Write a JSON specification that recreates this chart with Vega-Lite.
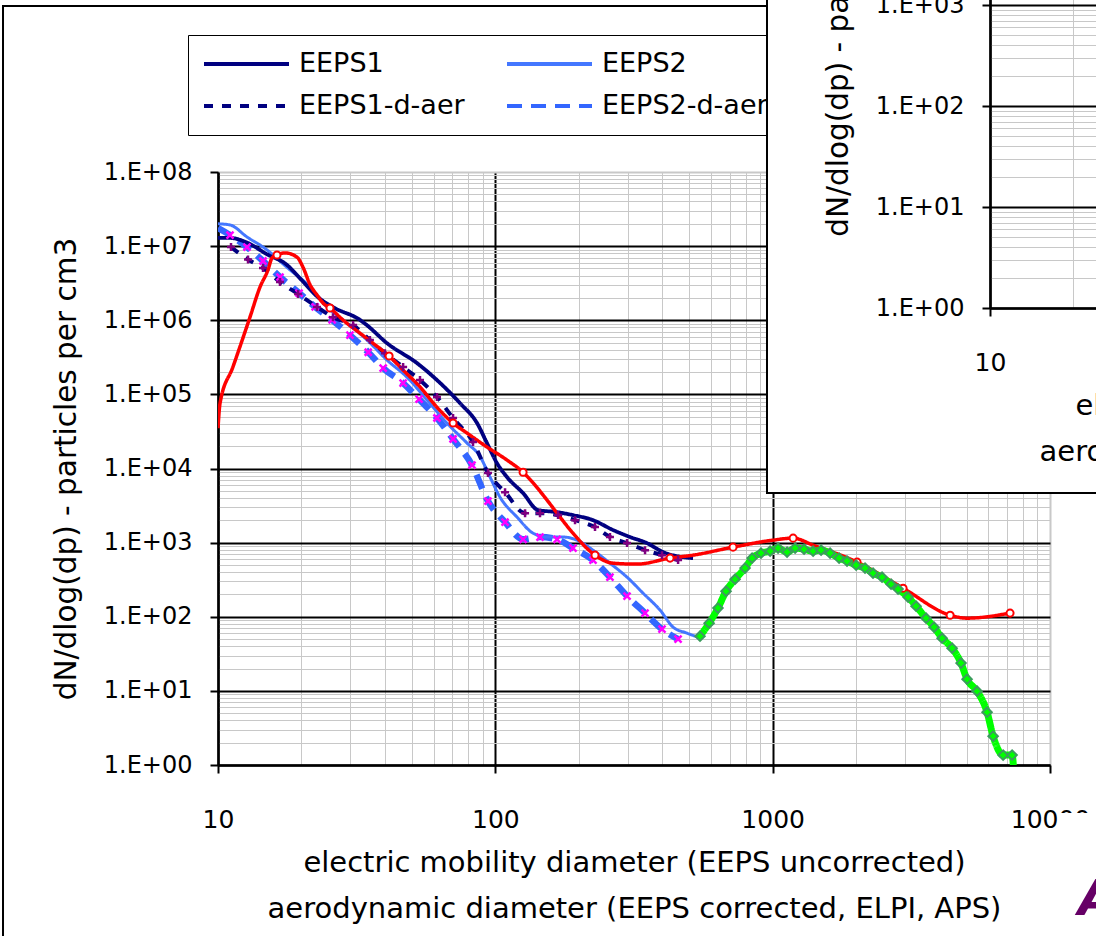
{
"$schema":"https://vega.github.io/schema/vega-lite/v6.json",
"autosize":{"type":"none"},
"padding":{"left":218,"top":172,"right":878,"bottom":764},
"background":"white",
"spacing":0,
"bounds":"flush",
"resolve":{"scale":{"color":"independent","strokeDash":"independent"},"legend":{"color":"independent","strokeDash":"independent"}},
"config":{
"font":"DejaVu Sans",
"view":{"stroke":null},
"axis":{"domainColor":"black","domainWidth":2.5,"tickColor":"black","tickWidth":2,"tickSize":8,"labelFont":"DejaVu Sans","labelColor":"black","titleFont":"DejaVu Sans","titleColor":"black","titleFontWeight":"normal","labelOverlap":false,"labelFlush":false,"labelBound":false,"grid":true}
},
"datasets":{"d":[
{"s":"EEPS1","x":10,"y":1.29e7},{"s":"EEPS1","x":11.05,"y":1.29e7},{"s":"EEPS1","x":12.7,"y":1.12e7},{"s":"EEPS1","x":15,"y":7.8e6},{"s":"EEPS1","x":17.7,"y":5.6e6},{"s":"EEPS1","x":20,"y":3.5e6},{"s":"EEPS1","x":22.75,"y":2.1e6},{"s":"EEPS1","x":26,"y":1.5e6},{"s":"EEPS1","x":32.5,"y":1.01e6},{"s":"EEPS1","x":34.4,"y":8.6e5},{"s":"EEPS1","x":40.7,"y":4.9e5},{"s":"EEPS1","x":52.2,"y":2.64e5},{"s":"EEPS1","x":61.6,"y":1.56e5},{"s":"EEPS1","x":74.6,"y":7.6e4},{"s":"EEPS1","x":85.9,"y":4.1e4},{"s":"EEPS1","x":93.3,"y":2.2e4},{"s":"EEPS1","x":101.4,"y":1.18e4},{"s":"EEPS1","x":110.2,"y":7650},{"s":"EEPS1","x":125.9,"y":4660},{"s":"EEPS1","x":142.6,"y":2750},{"s":"EEPS1","x":166.9,"y":2580},{"s":"EEPS1","x":190.6,"y":2350},{"s":"EEPS1","x":225,"y":2010},{"s":"EEPS1","x":265.7,"y":1480},{"s":"EEPS1","x":306,"y":1190},{"s":"EEPS1","x":352.4,"y":985},{"s":"EEPS1","x":402.7,"y":745},{"s":"EEPS1","x":475.3,"y":637},{"s":"EEPS1","x":516.4,"y":618},
{"s":"EEPS2","x":10,"y":2.0e7},{"s":"EEPS2","x":11.05,"y":1.93e7},{"s":"EEPS2","x":12.72,"y":1.33e7},{"s":"EEPS2","x":15.02,"y":8.9e6},{"s":"EEPS2","x":17.7,"y":5.2e6},{"s":"EEPS2","x":21.5,"y":2.8e6},{"s":"EEPS2","x":24.7,"y":1.51e6},{"s":"EEPS2","x":28.2,"y":1.01e6},{"s":"EEPS2","x":34.5,"y":5.4e5},{"s":"EEPS2","x":40.7,"y":2.9e5},{"s":"EEPS2","x":48,"y":1.71e5},{"s":"EEPS2","x":56.7,"y":8.4e4},{"s":"EEPS2","x":66.9,"y":4.1e4},{"s":"EEPS2","x":79.1,"y":2.2e4},{"s":"EEPS2","x":88.1,"y":1.45e4},{"s":"EEPS2","x":95.7,"y":7650},{"s":"EEPS2","x":104,"y":4100},{"s":"EEPS2","x":119.7,"y":2210},{"s":"EEPS2","x":136.8,"y":1340},{"s":"EEPS2","x":153.6,"y":1190},{"s":"EEPS2","x":175.4,"y":1190},{"s":"EEPS2","x":197,"y":1080},{"s":"EEPS2","x":225,"y":792},{"s":"EEPS2","x":259,"y":528},{"s":"EEPS2","x":298.5,"y":342},{"s":"EEPS2","x":341,"y":208},{"s":"EEPS2","x":392.6,"y":123},{"s":"EEPS2","x":437.5,"y":72.4},{"s":"EEPS2","x":491,"y":60.1},{"s":"EEPS2","x":538,"y":53.1},
{"s":"EEPS1-d-aer","x":11.14,"y":9.7e6,"m":1},{"s":"EEPS1-d-aer","x":12.83,"y":6.6e6,"m":1},{"s":"EEPS1-d-aer","x":14.53,"y":5.07e6,"m":1},{"s":"EEPS1-d-aer","x":16.73,"y":3.28e6,"m":1},{"s":"EEPS1-d-aer","x":19.44,"y":2.26e6,"m":1},{"s":"EEPS1-d-aer","x":22.75,"y":1.51e6,"m":1},{"s":"EEPS1-d-aer","x":25.98,"y":1.1e6,"m":1},{"s":"EEPS1-d-aer","x":30.7,"y":8.6e5,"m":1},{"s":"EEPS1-d-aer","x":35.3,"y":5.4e5,"m":1},{"s":"EEPS1-d-aer","x":40,"y":3.6e5,"m":1},{"s":"EEPS1-d-aer","x":46.5,"y":2.34e5,"m":1},{"s":"EEPS1-d-aer","x":53.5,"y":1.56e5,"m":1},{"s":"EEPS1-d-aer","x":61.6,"y":9.2e4,"m":1},{"s":"EEPS1-d-aer","x":70.4,"y":4.8e4,"m":1},{"s":"EEPS1-d-aer","x":83.1,"y":2.27e4,"m":1},{"s":"EEPS1-d-aer","x":94.1,"y":8700,"m":1},{"s":"EEPS1-d-aer","x":108.4,"y":4800,"m":1},{"s":"EEPS1-d-aer","x":128,"y":2500,"m":1},{"s":"EEPS1-d-aer","x":144.9,"y":2500,"m":1},{"s":"EEPS1-d-aer","x":168.3,"y":2350,"m":1},{"s":"EEPS1-d-aer","x":193.8,"y":2010,"m":1},{"s":"EEPS1-d-aer","x":228.8,"y":1620,"m":1},{"s":"EEPS1-d-aer","x":259,"y":1190,"m":1},{"s":"EEPS1-d-aer","x":298.5,"y":985,"m":1},{"s":"EEPS1-d-aer","x":346.6,"y":792,"m":1},{"s":"EEPS1-d-aer","x":399,"y":678,"m":1},{"s":"EEPS1-d-aer","x":456,"y":581,"m":1},
{"s":"EEPS2-d-aer","x":10,"y":1.75e7},{"s":"EEPS2-d-aer","x":11.05,"y":1.41e7,"m":1},{"s":"EEPS2-d-aer","x":12.72,"y":9.7e6,"m":1},{"s":"EEPS2-d-aer","x":14.53,"y":6.3e6,"m":1},{"s":"EEPS2-d-aer","x":16.73,"y":3.83e6,"m":1},{"s":"EEPS2-d-aer","x":19.6,"y":2.33e6,"m":1},{"s":"EEPS2-d-aer","x":22.4,"y":1.51e6,"m":1},{"s":"EEPS2-d-aer","x":25.8,"y":1.01e6,"m":1},{"s":"EEPS2-d-aer","x":29.9,"y":6.3e5,"m":1},{"s":"EEPS2-d-aer","x":34.8,"y":3.7e5,"m":1},{"s":"EEPS2-d-aer","x":39.4,"y":2.26e5,"m":1},{"s":"EEPS2-d-aer","x":46.5,"y":1.42e5,"m":1},{"s":"EEPS2-d-aer","x":53.1,"y":8.6e4,"m":1},{"s":"EEPS2-d-aer","x":61.6,"y":4.8e4,"m":1},{"s":"EEPS2-d-aer","x":70.4,"y":2.5e4,"m":1},{"s":"EEPS2-d-aer","x":82.4,"y":1.11e4,"m":1},{"s":"EEPS2-d-aer","x":94.1,"y":3630,"m":1},{"s":"EEPS2-d-aer","x":108.4,"y":1890,"m":1},{"s":"EEPS2-d-aer","x":125.9,"y":1110,"m":1},{"s":"EEPS2-d-aer","x":144.9,"y":1190,"m":1},{"s":"EEPS2-d-aer","x":166.9,"y":1110,"m":1},{"s":"EEPS2-d-aer","x":190.6,"y":843,"m":1},{"s":"EEPS2-d-aer","x":225,"y":581,"m":1},{"s":"EEPS2-d-aer","x":259,"y":342,"m":1},{"s":"EEPS2-d-aer","x":298.5,"y":190,"m":1},{"s":"EEPS2-d-aer","x":346.6,"y":112,"m":1},{"s":"EEPS2-d-aer","x":399,"y":68,"m":1},{"s":"EEPS2-d-aer","x":456,"y":49.9,"m":1},
{"s":"ELPI","x":10,"y":3.5e4},{"s":"ELPI","x":10.17,"y":7.6e4},{"s":"ELPI","x":11.32,"y":2.34e5},{"s":"ELPI","x":13.04,"y":1.1e6},{"s":"ELPI","x":14.17,"y":2.8e6},{"s":"ELPI","x":15.14,"y":4.76e6},{"s":"ELPI","x":15.65,"y":6.9e6},{"s":"ELPI","x":16.32,"y":7.6e6,"m":1},{"s":"ELPI","x":17.44,"y":8.1e6},{"s":"ELPI","x":19.27,"y":7.1e6},{"s":"ELPI","x":20.25,"y":5.2e6},{"s":"ELPI","x":21.5,"y":2.99e6},{"s":"ELPI","x":22.75,"y":2.19e6},{"s":"ELPI","x":23.9,"y":1.71e6},{"s":"ELPI","x":25.34,"y":1.46e6,"m":1},{"s":"ELPI","x":28.2,"y":1.01e6},{"s":"ELPI","x":32.5,"y":6.7e5},{"s":"ELPI","x":36.2,"y":4.9e5},{"s":"ELPI","x":41.4,"y":3.29e5,"m":1},{"s":"ELPI","x":46.5,"y":2.13e5},{"s":"ELPI","x":53.5,"y":1.26e5},{"s":"ELPI","x":61.6,"y":6.7e4},{"s":"ELPI","x":70.4,"y":4.1e4,"m":1},{"s":"ELPI","x":79.1,"y":3.0e4},{"s":"ELPI","x":93.3,"y":1.95e4},{"s":"ELPI","x":110.2,"y":1.3e4},{"s":"ELPI","x":125.9,"y":8900,"m":1},{"s":"ELPI","x":136.8,"y":6400},{"s":"ELPI","x":153.6,"y":3750},{"s":"ELPI","x":171.1,"y":2210},{"s":"ELPI","x":190.6,"y":1340},{"s":"ELPI","x":228.8,"y":678,"m":1},{"s":"ELPI","x":265.7,"y":528},{"s":"ELPI","x":324.3,"y":513},{"s":"ELPI","x":426.6,"y":618,"m":1},{"s":"ELPI","x":516.4,"y":678},{"s":"ELPI","x":719.6,"y":869,"m":1},{"s":"ELPI","x":1003,"y":1080},{"s":"ELPI","x":1185,"y":1150,"m":1},{"s":"ELPI","x":1399,"y":925},{"s":"ELPI","x":2015,"y":546,"m":1},{"s":"ELPI","x":2953,"y":243,"m":1},{"s":"ELPI","x":4364,"y":105,"m":1},{"s":"ELPI","x":5023,"y":95.7},{"s":"ELPI","x":7178,"y":112,"m":1},
{"s":"APS","x":547,"y":54.7,"m":1},{"s":"APS","x":590,"y":82,"m":1},{"s":"APS","x":635,"y":131,"m":1},{"s":"APS","x":679,"y":221,"m":1},{"s":"APS","x":732,"y":321,"m":1},{"s":"APS","x":795,"y":453,"m":1},{"s":"APS","x":843,"y":618,"m":1},{"s":"APS","x":908,"y":721,"m":1},{"s":"APS","x":979,"y":767,"m":1},{"s":"APS","x":1046,"y":843,"m":1},{"s":"APS","x":1127,"y":745,"m":1},{"s":"APS","x":1205,"y":843,"m":1},{"s":"APS","x":1298,"y":817,"m":1},{"s":"APS","x":1399,"y":767,"m":1},{"s":"APS","x":1495,"y":792,"m":1},{"s":"APS","x":1611,"y":721,"m":1},{"s":"APS","x":1736,"y":618,"m":1},{"s":"APS","x":1854,"y":563,"m":1},{"s":"APS","x":2000,"y":497,"m":1},{"s":"APS","x":2153,"y":453,"m":1},{"s":"APS","x":2301,"y":387,"m":1},{"s":"APS","x":2480,"y":342,"m":1},{"s":"APS","x":2673,"y":275,"m":1},{"s":"APS","x":2833,"y":236,"m":1},{"s":"APS","x":3077,"y":184,"m":1},{"s":"APS","x":3289,"y":139,"m":1},{"s":"APS","x":3574,"y":95.7,"m":1},{"s":"APS","x":3819,"y":72.4,"m":1},{"s":"APS","x":4083,"y":51.4,"m":1},{"s":"APS","x":4436,"y":37.7,"m":1},{"s":"APS","x":4777,"y":23.7,"m":1},{"s":"APS","x":5023,"y":14.4,"m":1},{"s":"APS","x":5458,"y":9.9,"m":1},{"s":"APS","x":5930,"y":5.16,"m":1},{"s":"APS","x":6237,"y":2.45,"m":1},{"s":"APS","x":6776,"y":1.36,"m":1},{"s":"APS","x":7300,"y":1.36,"m":1},{"s":"APS","x":7450,"y":0.5}
]},
"hconcat":[
{
"width":832,"height":593,
"data":{"name":"d"},
"layer":[
{"data":{"values":[{}]},"mark":{"type":"rect","filled":false,"stroke":"black","strokeWidth":2},
 "encoding":{"x":{"datum":1.678,"type":"quantitative","scale":{"type":"log","domain":[10,10000],"nice":false}},"x2":{"datum":10000000},"y":{"datum":1.738e10,"type":"quantitative","scale":{"type":"log","domain":[1,100000000],"nice":false}},"y2":{"datum":0.00317}}},
{"transform":[{"filter":"datum.s==='EEPS2-d-aer'"}],
 "mark":{"type":"line","strokeWidth":6.5,"interpolate":"monotone","clip":true},
 "encoding":{
  "x":{"field":"x","type":"quantitative","scale":{"type":"log","domain":[10,10000],"nice":false},
   "axis":{"values":[10,20,30,40,50,60,70,80,90,100,200,300,400,500,600,700,800,900,1000,2000,3000,4000,5000,6000,7000,8000,9000,10000],
    "labelExpr":"abs(log(datum.value)/LN10-round(log(datum.value)/LN10))<0.001 ? format(datum.value,'d') : ''",
    "gridColor":{"condition":{"test":"abs(log(datum.value)/LN10-round(log(datum.value)/LN10))<0.001 && datum.value<5000","value":"black"},"value":"#c8c8c8"},
    "gridWidth":{"condition":{"test":"abs(log(datum.value)/LN10-round(log(datum.value)/LN10))<0.001","value":2},"value":1},
    "tickOpacity":{"condition":{"test":"abs(log(datum.value)/LN10-round(log(datum.value)/LN10))<0.001","value":1},"value":0},
    "labelFontSize":25,"labelPadding":34,
    "title":["electric mobility diameter (EEPS uncorrected)","aerodynamic diameter (EEPS corrected, ELPI, APS)"],
    "titleFontSize":29,"titlePadding":16,"titleLineHeight":46}},
  "y":{"field":"y","type":"quantitative","scale":{"type":"log","domain":[1,100000000],"nice":false},
   "axis":{"values":[1,2,3,4,5,6,7,8,9,10,20,30,40,50,60,70,80,90,100,200,300,400,500,600,700,800,900,1000,2000,3000,4000,5000,6000,7000,8000,9000,10000,20000,30000,40000,50000,60000,70000,80000,90000,1e5,2e5,3e5,4e5,5e5,6e5,7e5,8e5,9e5,1e6,2e6,3e6,4e6,5e6,6e6,7e6,8e6,9e6,1e7,2e7,3e7,4e7,5e7,6e7,7e7,8e7,9e7,1e8],
    "labelExpr":"abs(log(datum.value)/LN10-round(log(datum.value)/LN10))<0.001 ? '1.E+0' + round(log(datum.value)/LN10) : ''",
    "gridColor":{"condition":{"test":"abs(log(datum.value)/LN10-round(log(datum.value)/LN10))<0.001 && datum.value<5e7","value":"black"},"value":"#c8c8c8"},
    "gridWidth":{"condition":{"test":"abs(log(datum.value)/LN10-round(log(datum.value)/LN10))<0.001","value":2},"value":1},
    "tickOpacity":{"condition":{"test":"abs(log(datum.value)/LN10-round(log(datum.value)/LN10))<0.001","value":1},"value":0},
    "labelFontSize":24,"labelPadding":18,
    "title":"dN/dlog(dp) - particles per cm3","titleFontSize":29.5,"titlePadding":22}},
  "color":{"field":"s","type":"nominal","scale":{"domain":["EEPS1","EEPS1-d-aer","EEPS2","EEPS2-d-aer","ELPI","APS"],"range":["#000080","#000080","#4477FF","#3366FF","#FF0000","#00FF00"]},
   "legend":{"title":null,"orient":"none","legendX":-30,"legendY":-137,"columns":3,"symbolType":"stroke","symbolSize":7225,"symbolStrokeWidth":4,"clipHeight":30,"labelFontSize":27,"labelFont":"DejaVu Sans","labelColor":"black","labelOffset":8,"columnPadding":40,"rowPadding":12,"padding":14,"strokeColor":"black","fillColor":"white","labelLimit":400}},
  "strokeDash":{"field":"s","type":"nominal","scale":{"domain":["EEPS1","EEPS1-d-aer","EEPS2","EEPS2-d-aer","ELPI","APS"],"range":[[1,0],[9,9],[1,0],[15,9],[1,0],[1,0]]},
   "legend":{"title":null,"orient":"none","legendX":-30,"legendY":-137,"columns":3,"symbolType":"stroke","symbolSize":7225,"symbolStrokeWidth":4,"clipHeight":30,"labelFontSize":27,"labelFont":"DejaVu Sans","labelColor":"black","labelOffset":8,"columnPadding":40,"rowPadding":12,"padding":14,"strokeColor":"black","fillColor":"white","labelLimit":400}}
 }},
{"transform":[{"filter":"datum.s==='EEPS2'"}],"mark":{"type":"line","strokeWidth":3,"interpolate":"monotone","clip":true},
 "encoding":{"x":{"field":"x","type":"quantitative","scale":{"type":"log","domain":[10,10000],"nice":false}},"y":{"field":"y","type":"quantitative","scale":{"type":"log","domain":[1,100000000],"nice":false}},"color":{"field":"s","type":"nominal"},"strokeDash":{"field":"s","type":"nominal"}}},
{"transform":[{"filter":"datum.s==='EEPS1-d-aer'"}],"mark":{"type":"line","strokeWidth":4,"interpolate":"monotone","clip":true},
 "encoding":{"x":{"field":"x","type":"quantitative","scale":{"type":"log","domain":[10,10000],"nice":false}},"y":{"field":"y","type":"quantitative","scale":{"type":"log","domain":[1,100000000],"nice":false}},"color":{"field":"s","type":"nominal"},"strokeDash":{"field":"s","type":"nominal"}}},
{"transform":[{"filter":"datum.s==='EEPS1'"}],"mark":{"type":"line","strokeWidth":3.8,"interpolate":"monotone","clip":true},
 "encoding":{"x":{"field":"x","type":"quantitative","scale":{"type":"log","domain":[10,10000],"nice":false}},"y":{"field":"y","type":"quantitative","scale":{"type":"log","domain":[1,100000000],"nice":false}},"color":{"field":"s","type":"nominal"},"strokeDash":{"field":"s","type":"nominal"}}},
{"transform":[{"filter":"datum.s==='ELPI'"}],"mark":{"type":"line","strokeWidth":3.5,"interpolate":"monotone","clip":true},
 "encoding":{"x":{"field":"x","type":"quantitative","scale":{"type":"log","domain":[10,10000],"nice":false}},"y":{"field":"y","type":"quantitative","scale":{"type":"log","domain":[1,100000000],"nice":false}},"color":{"field":"s","type":"nominal"},"strokeDash":{"field":"s","type":"nominal"}}},
{"transform":[{"filter":"datum.s==='APS'"}],"mark":{"type":"line","strokeWidth":7,"interpolate":"monotone","clip":true},
 "encoding":{"x":{"field":"x","type":"quantitative","scale":{"type":"log","domain":[10,10000],"nice":false}},"y":{"field":"y","type":"quantitative","scale":{"type":"log","domain":[1,100000000],"nice":false}},"color":{"field":"s","type":"nominal"},"strokeDash":{"field":"s","type":"nominal"}}},
{"transform":[{"filter":"datum.s==='EEPS2-d-aer' && datum.m===1"}],"mark":{"type":"point","shape":"M-1,-1L1,1M1,-1L-1,1","filled":false,"stroke":"#FF00FF","strokeWidth":2.5,"size":49,"opacity":1},
 "encoding":{"x":{"field":"x","type":"quantitative","scale":{"type":"log","domain":[10,10000],"nice":false}},"y":{"field":"y","type":"quantitative","scale":{"type":"log","domain":[1,100000000],"nice":false}}}},
{"transform":[{"filter":"datum.s==='EEPS1-d-aer'"}],"mark":{"type":"point","shape":"M-1,0H1M0,-1V1","filled":false,"stroke":"#800080","strokeWidth":2.5,"size":64,"opacity":1},
 "encoding":{"x":{"field":"x","type":"quantitative","scale":{"type":"log","domain":[10,10000],"nice":false}},"y":{"field":"y","type":"quantitative","scale":{"type":"log","domain":[1,100000000],"nice":false}}}},
{"transform":[{"filter":"datum.s==='ELPI' && datum.m===1"}],"mark":{"type":"point","shape":"circle","filled":true,"fill":"white","stroke":"#FF0000","strokeWidth":2,"size":50,"opacity":1},
 "encoding":{"x":{"field":"x","type":"quantitative","scale":{"type":"log","domain":[10,10000],"nice":false}},"y":{"field":"y","type":"quantitative","scale":{"type":"log","domain":[1,100000000],"nice":false}}}},
{"transform":[{"filter":"datum.s==='APS' && datum.m===1"}],"mark":{"type":"point","shape":"diamond","filled":true,"fill":"#00FF00","stroke":"#3C9B5E","strokeWidth":2,"size":90,"opacity":1},
 "encoding":{"x":{"field":"x","type":"quantitative","scale":{"type":"log","domain":[10,10000],"nice":false}},"y":{"field":"y","type":"quantitative","scale":{"type":"log","domain":[1,100000000],"nice":false}}}},
{"data":{"values":[{}]},"mark":{"type":"rect","fill":"white","strokeWidth":0},
 "encoding":{"x":{"datum":10687,"type":"quantitative","scale":{"type":"log","domain":[10,10000],"nice":false}},"x2":{"datum":10000000},"y":{"datum":0.2251,"type":"quantitative","scale":{"type":"log","domain":[1,100000000],"nice":false}},"y2":{"datum":0.00001}}},
{"data":{"values":[{}]},"mark":{"type":"text","text":"A","align":"left","baseline":"alphabetic","fontSize":50,"fontWeight":"bold","fontStyle":"italic","color":"#660066"},
 "encoding":{"x":{"datum":12619,"type":"quantitative","scale":{"type":"log","domain":[10,10000],"nice":false}},"y":{"datum":0.00947,"type":"quantitative","scale":{"type":"log","domain":[1,100000000],"nice":false}}}}
]
},
{
"width":832,"height":136,
"data":{"values":[{}]},
"resolve":{"scale":{"x":"independent"},"axis":{"x":"independent"}},
"layer":[
{"mark":{"type":"rect","fill":"white","stroke":"black","strokeWidth":2},
 "encoding":{
  "x":{"datum":1.57,"type":"quantitative","scale":{"type":"log","domain":[10,10000],"nice":false,"range":[-60,772]},
   "axis":{"orient":"top","zindex":1,"domain":false,"ticks":false,"labels":false,"title":null,"grid":true,
    "values":[10,20,30,40,50,60,70,80,90,100,200,300,400,500,600,700,800,900,1000,2000,3000,4000,5000,6000,7000,8000,9000,10000],
    "gridColor":{"condition":{"test":"abs(log(datum.value)/LN10-round(log(datum.value)/LN10))<0.001 && datum.value<5000","value":"black"},"value":"#c8c8c8"},
    "gridWidth":{"condition":{"test":"abs(log(datum.value)/LN10-round(log(datum.value)/LN10))<0.001","value":2},"value":1}}},
  "x2":{"datum":10000000},
  "y":{"datum":0.01474,"type":"quantitative","scale":{"type":"log","domain":[1,1000000],"nice":false,"range":[136,-470]},
   "axis":{"zindex":1,"offset":60,"values":[1,2,3,4,5,6,7,8,9,10,20,30,40,50,60,70,80,90,100,200,300,400,500,600,700,800,900,1000,2000,3000,4000,5000,6000,7000,8000,9000,10000,20000,30000,40000,50000,60000,70000,80000,90000,1e5,2e5,3e5,4e5,5e5,6e5,7e5,8e5,9e5,1e6],
    "labelExpr":"abs(log(datum.value)/LN10-round(log(datum.value)/LN10))<0.001 ? '1.E+0' + round(log(datum.value)/LN10) : ''",
    "gridColor":{"condition":{"test":"abs(log(datum.value)/LN10-round(log(datum.value)/LN10))<0.001","value":"black"},"value":"#c8c8c8"},
    "gridWidth":{"condition":{"test":"abs(log(datum.value)/LN10-round(log(datum.value)/LN10))<0.001","value":2},"value":1},
    "tickOpacity":{"condition":{"test":"abs(log(datum.value)/LN10-round(log(datum.value)/LN10))<0.001","value":1},"value":0},
    "labelFontSize":24,"labelPadding":18,
    "title":"dN/dlog(dp) - particles per cm3","titleFontSize":29.5,"titlePadding":22}},
  "y2":{"datum":1e12}
 }},
{"mark":{"type":"point","opacity":0},
 "encoding":{
  "x":{"datum":10,"type":"quantitative","scale":{"type":"log","domain":[10,10000],"nice":false,"range":[-60,772]},
   "axis":{"orient":"bottom","zindex":1,"grid":false,"values":[10,100,1000,10000],
    "labelExpr":"format(datum.value,'d')",
    "labelFontSize":25,"labelPadding":34,
    "title":["electric mobility diameter (EEPS uncorrected)","aerodynamic diameter (EEPS corrected, ELPI, APS)"],
    "titleFontSize":29,"titlePadding":16,"titleLineHeight":46}},
  "y":{"datum":1,"type":"quantitative","scale":{"type":"log","domain":[1,1000000],"nice":false,"range":[136,-470]}}
 }}
]
}
]
}
